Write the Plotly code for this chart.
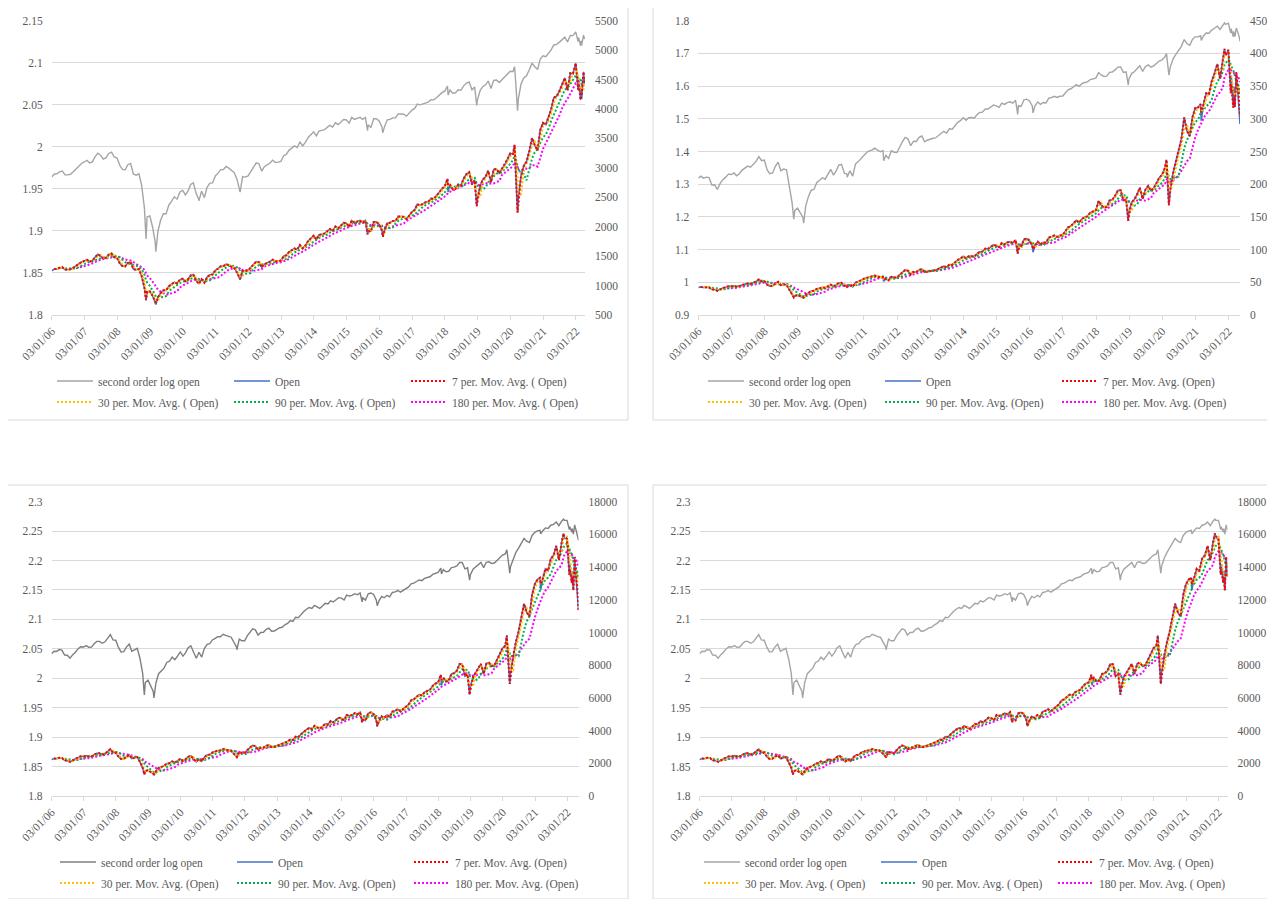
import numpy as np
import pandas as pd
import plotly.graph_objects as go

W, H = 1275, 899
OFF = 8  # margine del body della pagina html
FONT = "Liberation Serif"
TXT = "#595959"
GRID = "#D9D9D9"

# aperture mensili (primo giorno di borsa del mese), gen 2006 -> ultimo mese disponibile
SP500_OPEN = [
    1248, 1280, 1281, 1302, 1311, 1270, 1270, 1276, 1303, 1335, 1377, 1400,  # 2006
    1418, 1438, 1406, 1420, 1482, 1530, 1504, 1455, 1473, 1527, 1545, 1481,  # 2007
    1468, 1378, 1330, 1326, 1385, 1400, 1280, 1267, 1282, 1164, 968, 896,    # 2008
    903, 825, 735, 798, 872, 919, 919, 987, 1020, 1057, 1036, 1098,          # 2009
    1116, 1073, 1105, 1171, 1187, 1087, 1031, 1107, 1049, 1143, 1185, 1187,  # 2010
    1258, 1289, 1328, 1329, 1365, 1345, 1320, 1292, 1219, 1131, 1251, 1246,  # 2011
    1258, 1312, 1366, 1408, 1397, 1310, 1362, 1379, 1406, 1441, 1412, 1416,  # 2012
    1426, 1498, 1514, 1569, 1597, 1631, 1609, 1689, 1633, 1682, 1758, 1806,  # 2013
    1848, 1782, 1859, 1873, 1884, 1923, 1960, 1929, 2004, 1971, 2018, 2065,  # 2014
    2058, 1996, 2105, 2067, 2087, 2108, 2067, 2104, 1970, 1919, 2080, 2082,  # 2015
    2038, 1937, 1937, 2060, 2067, 2097, 2099, 2173, 2171, 2168, 2129, 2200,  # 2016
    2251, 2285, 2380, 2363, 2388, 2415, 2424, 2477, 2474, 2521, 2583, 2645,  # 2017
    2683, 2816, 2715, 2633, 2643, 2718, 2704, 2821, 2896, 2926, 2717, 2790,  # 2018
    2476, 2702, 2798, 2848, 2952, 2751, 2971, 2980, 2909, 2984, 3051, 3144,  # 2019
    3244, 3235, 2974, 2499, 2869, 3038, 3105, 3288, 3507, 3385, 3296, 3645,  # 2020
    3764, 3731, 3842, 3992, 4192, 4216, 4300, 4406, 4528, 4317, 4610, 4602,  # 2021
    4778, 4519, 4363, 4540,                                                  # 2022
]
# minimi/massimi infra-mese visibili nel grafico
SP500_EXTRA_DATE = ["2008-11-20", "2009-03-09", "2010-07-02", "2011-10-04", "2015-08-25",
                    "2016-02-11", "2018-02-08", "2018-12-24", "2020-02-19", "2020-03-23",
                    "2022-01-27", "2022-02-24", "2022-03-08", "2022-03-29", "2022-04-14"]
SP500_EXTRA = [752, 680, 1023, 1099, 1870, 1830, 2590, 2350, 3390, 2240,
               4330, 4155, 4170, 4630, 4450]

QQQ_OPEN = [
    42.0, 43.0, 42.0, 42.5, 42.3, 38.9, 39.0, 37.0, 39.6, 41.3, 42.5, 44.0,        # 2006
    43.8, 44.6, 43.2, 44.2, 46.1, 47.3, 48.3, 47.7, 49.4, 51.1, 54.2, 51.6,        # 2007
    52.0, 46.2, 44.2, 44.6, 48.2, 50.7, 45.7, 46.7, 46.3, 39.2, 32.2, 29.5,        # 2008
    30.3, 28.7, 27.5, 31.0, 34.3, 36.7, 37.0, 40.0, 41.0, 42.2, 41.5, 44.2,        # 2009
    46.5, 43.5, 45.5, 49.0, 49.2, 44.5, 44.0, 45.7, 43.0, 49.5, 51.0, 53.0,        # 2010
    55.5, 57.0, 58.2, 58.7, 60.2, 59.0, 57.5, 58.2, 55.0, 53.0, 58.2, 57.2,        # 2011
    57.0, 61.5, 65.2, 69.0, 67.7, 62.0, 65.7, 65.5, 69.0, 70.2, 65.2, 66.5,        # 2012
    67.5, 68.2, 68.5, 70.5, 72.0, 74.7, 73.0, 77.2, 76.7, 80.5, 84.2, 86.2,        # 2013
    89.7, 86.7, 89.7, 90.0, 89.2, 93.5, 96.5, 97.0, 101.5, 101.2, 104.0, 107.2,    # 2014
    106.0, 103.7, 110.2, 108.2, 111.0, 112.2, 110.0, 114.7, 106.2, 105.0, 115.5, 116.7,  # 2015
    113.7, 105.7, 106.0, 112.0, 108.2, 111.2, 110.5, 118.5, 119.5, 121.7, 119.5, 121.7,  # 2016
    122.2, 128.5, 134.0, 136.0, 140.0, 144.7, 141.2, 147.0, 149.5, 151.0, 156.5, 158.5,  # 2017
    160.0, 174.5, 168.2, 164.2, 165.0, 175.0, 176.0, 182.2, 190.5, 190.7, 175.0, 176.5,  # 2018
    158.2, 172.5, 176.7, 184.5, 194.7, 177.5, 191.5, 197.2, 190.0, 194.2, 202.0, 210.0,  # 2019
    214.4, 224.8, 207.9, 191.1, 216.9, 234.9, 250.1, 268.8, 302.2, 281.6, 273.7, 302.5,  # 2020
    316.7, 317.4, 322.6, 321.9, 339.1, 337.8, 357.5, 369.3, 383.8, 361.2, 390.2, 396.8,  # 2021
    405.4, 366.1, 348.9, 366.1, 317.0,                                                   # 2022
]
QQQ_EXTRA_DATE = ["2008-11-20", "2009-03-09", "2010-07-01", "2011-08-08", "2015-08-24",
                  "2016-02-09", "2018-12-24", "2020-02-19", "2020-03-16", "2021-03-08",
                  "2021-11-19", "2022-01-27", "2022-02-24", "2022-03-14", "2022-03-29",
                  "2022-04-13", "2022-04-22", "2022-05-09"]
QQQ_EXTRA = [27.0, 26.0, 42.5, 51.5, 94.0, 96.0, 144.0, 237.5, 168.0, 297.0,
             407.0, 339.0, 317.0, 318.0, 371.0, 346.0, 331.0, 292.0]

NASDAQ_OPEN = [
    2216, 2290, 2285, 2340, 2325, 2180, 2175, 2090, 2190, 2260, 2370, 2430,  # 2006
    2420, 2465, 2415, 2420, 2530, 2610, 2610, 2545, 2595, 2705, 2860, 2660,  # 2007
    2650, 2410, 2270, 2280, 2420, 2520, 2290, 2330, 2380, 2090, 1720, 1535,  # 2008
    1580, 1480, 1375, 1530, 1715, 1780, 1840, 1980, 2010, 2120, 2050, 2150,  # 2009
    2270, 2150, 2240, 2400, 2460, 2260, 2110, 2260, 2120, 2370, 2510, 2530,  # 2010
    2660, 2720, 2780, 2780, 2870, 2830, 2780, 2760, 2580, 2420, 2690, 2630,  # 2011
    2630, 2820, 2970, 3090, 3050, 2840, 2940, 2950, 3070, 3120, 2990, 3000,  # 2012
    3070, 3140, 3160, 3270, 3330, 3460, 3420, 3630, 3610, 3780, 3930, 4060,  # 2013
    4160, 4100, 4290, 4200, 4110, 4250, 4410, 4370, 4580, 4500, 4630, 4790,  # 2014
    4760, 4630, 4960, 4900, 4950, 5070, 4990, 5130, 4770, 4620, 5060, 5120,  # 2015
    5010, 4620, 4560, 4870, 4780, 4950, 4840, 5160, 5210, 5310, 5190, 5320,  # 2016
    5440, 5600, 5850, 5910, 6060, 6200, 6140, 6350, 6430, 6500, 6740, 6880,  # 2017
    6940, 7410, 7240, 7000, 7060, 7470, 7510, 7660, 8070, 8060, 7330, 7440,  # 2018
    6670, 7290, 7530, 7790, 8080, 7460, 8090, 8150, 7940, 8000, 8330, 8660,  # 2019
    9040, 9190, 8740, 7600, 8600, 9430, 10060, 10920, 11760, 11230, 10990, 12310,  # 2020
    12960, 13250, 13350, 13300, 13900, 13780, 14520, 14720, 15300, 14420, 15500, 15760,  # 2021
    15730, 14180, 13750, 14300, 12320,                                        # 2022
]
NASDAQ_EXTRA_DATE = ["2008-11-20", "2009-03-09", "2010-07-02", "2011-10-04", "2015-08-24",
                     "2016-02-11", "2018-02-08", "2018-12-24", "2020-02-19", "2020-03-23",
                     "2021-03-08", "2021-11-22", "2022-01-27", "2022-02-24", "2022-03-14",
                     "2022-03-29", "2022-04-13", "2022-04-22", "2022-05-11"]
NASDAQ_EXTRA = [1316, 1268, 2091, 2335, 4506, 4267, 6777, 6193, 9817, 6860,
                12610, 16057, 13540, 13040, 12580, 14620, 13400, 12840, 11370]

ANNI = list(range(2006, 2023))
MEDIE = [(7, "#FF0000"), (30, "#FFC000"), (90, "#00B050"), (180, "#FF00FF")]


def fx(p):
    return (p - OFF) / W


def fy(p):
    return 1 - (p - OFF) / H


def serie(mensili, date_extra, valori_extra, fine):
    idx = pd.date_range("2006-01-01", periods=len(mensili), freq="MS")
    idx = idx.where(idx != pd.Timestamp("2006-01-01"), pd.Timestamp("2006-01-03"))
    s = pd.concat([pd.Series(mensili, index=idx, dtype=float),
                   pd.Series(valori_extra, index=pd.to_datetime(date_extra), dtype=float)]).sort_index()
    return s[s.index <= pd.Timestamp(fine)]


def media_mobile(s, periodi):
    # periodi di borsa -> giorni di calendario
    giorni = int(round(periodi * 7 / 5))
    mm = s.rolling(f"{giorni}D").mean()
    mm[mm.index < s.index[0] + pd.Timedelta(days=giorni)] = np.nan
    return mm


pannelli = [
    dict(s=serie(SP500_OPEN, SP500_EXTRA_DATE, SP500_EXTRA, "2022-04-14"), fine="2022-04-14",
         px=(51.7, 585), py=(20.7, 315), sx=(1.8, 2.15, 0.05), dx=(500, 5500, 500),
         grigio="#A5A5A5", par="( Open)", leg=(57, 234, 410), righe=(381, 402)),
    dict(s=serie(QQQ_OPEN, QQQ_EXTRA_DATE, QQQ_EXTRA, "2022-05-09"), fine="2022-05-09",
         px=(698.3, 1240), py=(20.7, 315), sx=(0.9, 1.8, 0.1), dx=(0, 450, 50),
         grigio="#A5A5A5", par="(Open)", leg=(708, 883, 1057), righe=(381, 402)),
    dict(s=serie(NASDAQ_OPEN, NASDAQ_EXTRA_DATE, NASDAQ_EXTRA, "2022-05-11"), fine="2022-05-11",
         px=(51.5, 578.5), py=(501.7, 796), sx=(1.8, 2.3, 0.05), dx=(0, 18000, 2000),
         grigio="#7F7F7F", par="(Open)", leg=(60, 236, 409), righe=(862, 883)),
    dict(s=serie(NASDAQ_OPEN, NASDAQ_EXTRA_DATE, NASDAQ_EXTRA, "2022-04-13"), fine="2022-04-13",
         px=(699.5, 1227.5), py=(501.7, 796), sx=(1.8, 2.3, 0.05), dx=(0, 18000, 2000),
         grigio="#A5A5A5", par="( Open)", leg=(704, 882, 1058), righe=(862, 883)),
]
riquadri = [(5, 628, 5, 420), (653, 1273, 5, 420), (5, 628, 485, 899), (653, 1273, 485, 899)]

fig = go.Figure()
layout = {}
tick_font = dict(family=FONT, size=11.5, color=TXT)

for k, p in enumerate(pannelli, start=1):
    xs = "" if k == 1 else str(k)
    yl, yr = 2 * k - 1, 2 * k
    yls = "" if yl == 1 else str(yl)
    leg1 = "legend" if k == 1 else f"legend{2 * k - 1}"
    leg2 = f"legend{2 * k}"
    s = p["s"]

    fig.add_trace(go.Scatter(x=s.index, y=np.log(np.log(s.values)), mode="lines", name="second order log open",
                             line=dict(color=p["grigio"], width=1.4), xaxis=f"x{xs}", yaxis=f"y{yls}",
                             legend=leg1, legendrank=1))
    fig.add_trace(go.Scatter(x=s.index, y=s.values, mode="lines", name="Open",
                             line=dict(color="#4472C4", width=1.6), xaxis=f"x{xs}", yaxis=f"y{yr}",
                             legend=leg1, legendrank=2))
    for j, (n, col) in reversed(list(enumerate(MEDIE))):
        mm = media_mobile(s, n)
        fig.add_trace(go.Scatter(x=mm.index, y=mm.values, mode="lines", name=f"{n} per. Mov. Avg. {p['par']}",
                                 line=dict(color=col, width=2, dash="2px,2px"), xaxis=f"x{xs}", yaxis=f"y{yr}",
                                 legend=leg1 if j == 0 else leg2, legendrank=3 + j))

    layout[f"xaxis{xs}"] = dict(
        type="date", domain=[fx(p["px"][0]), fx(p["px"][1])], anchor=f"y{yls}", range=["2006-01-03", p["fine"]],
        automargin=False, tickvals=[f"{a}-01-03" for a in ANNI], ticktext=[f"03/01/{a % 100:02d}" for a in ANNI],
        tickangle=-45, ticks="outside", ticklen=4, tickcolor=GRID, showline=True, linecolor=GRID,
        showgrid=False, zeroline=False, tickfont=tick_font)
    layout[f"yaxis{yls}"] = dict(
        domain=[fy(p["py"][1]), fy(p["py"][0])], anchor=f"x{xs}", range=[p["sx"][0], p["sx"][1]],
        tick0=p["sx"][0], dtick=p["sx"][2], showgrid=True, gridcolor=GRID, zeroline=False, showline=False,
        ticks="", ticklabelstandoff=8, automargin=False, tickfont=tick_font)
    layout[f"yaxis{yr}"] = dict(
        overlaying=f"y{yls}", anchor=f"x{xs}", side="right", range=[p["dx"][0], p["dx"][1]],
        tick0=p["dx"][0], dtick=p["dx"][2], tickformat="d", showgrid=False, zeroline=False, showline=False,
        ticks="", ticklabelstandoff=9, automargin=False, tickfont=tick_font)

    for nome, riga in ((leg1, p["righe"][0]), (leg2, p["righe"][1])):
        layout[nome] = dict(orientation="h", x=fx(p["leg"][0] - 5), y=fy(riga), xanchor="left",
                            yanchor="middle", itemwidth=36, entrywidth=126, entrywidthmode="pixels",
                            font=dict(family=FONT, size=11.5, color=TXT), bgcolor="rgba(0,0,0,0)",
                            borderwidth=0, tracegroupgap=0)

fig.update_layout(
    width=W, height=H, margin=dict(l=0, r=0, t=0, b=0, pad=0), paper_bgcolor="white", plot_bgcolor="white",
    showlegend=True,
    shapes=[dict(type="rect", xref="paper", yref="paper", x0=fx(a), x1=fx(b), y0=fy(d), y1=fy(c),
                 line=dict(color=GRID, width=1), layer="below") for a, b, c, d in riquadri],
    **layout)

fig.write_html("out.html")
